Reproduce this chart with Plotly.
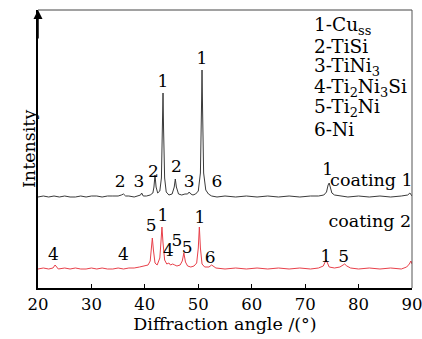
import plotly.graph_objects as go

# ---- data ----
c1_angle = [20, 21, 22, 23, 24, 25, 26, 27, 28, 29, 30, 31, 32, 33, 34, 35, 35.6, 36.0, 36.4, 37, 38, 38.8, 39.2, 39.4, 39.7, 40.3, 41.0,
            41.5, 41.7, 41.9, 42.1, 42.4, 42.8, 43.1, 43.3, 43.4, 43.5, 43.7, 44.0, 44.5, 45.1, 45.5, 45.7, 45.9, 46.3, 46.9,
            47.5, 48.0, 48.3, 48.6, 49.0, 49.5, 50.0, 50.4, 50.6, 50.7, 50.8, 51.0, 51.4, 51.9, 52.5, 53.5, 55, 57, 59, 61, 63,
            65, 67, 69, 71, 72.5, 73.5, 74.0, 74.3, 74.5, 74.7, 75.0, 75.5, 76.5, 78, 80, 82, 84, 86, 88, 89.2, 89.6, 89.8, 90]
c1_int = [91, 92, 91, 92, 91, 92, 91, 91, 92, 91, 92, 92, 91, 92, 92, 92, 93, 94, 92, 92, 91, 92, 93, 95, 92, 92, 93,
          95, 101, 113, 101, 95, 97, 110, 160, 195, 160, 110, 96, 93, 94, 101, 109, 101, 94, 93,
          94, 94, 96, 94, 93, 94, 97, 115, 180, 218, 180, 115, 98, 94, 92, 91, 92, 91, 92, 91, 92,
          91, 92, 91, 92, 92, 93, 96, 103, 105, 101, 95, 93, 92, 91, 92, 91, 92, 91, 92, 93, 95, 94, 92]

c2_angle = [20, 21, 22, 22.8, 23.2, 23.4, 23.8, 25, 26, 27, 28, 29, 30, 31, 32, 33, 34, 35, 36, 37, 38, 39, 40, 40.6, 41.0,
            41.2, 41.4, 41.6, 41.9, 42.3, 42.8, 43.0, 43.2, 43.4, 43.7, 44.1, 44.5, 44.8, 45.2, 45.6, 46.0, 46.6, 47.0,
            47.3, 47.6, 48.0, 48.6, 49.2, 49.7, 50.0, 50.2, 50.4, 50.7, 51.2, 52.0, 52.5, 52.8, 53.3, 55, 57, 59, 61, 63,
            65, 67, 69, 71, 72.5, 73.4, 73.7, 73.9, 74.1, 74.5, 75.5, 76.5, 77.1, 77.4, 77.8, 78.5, 80, 82, 84, 86, 88,
            89.0, 89.5, 89.8, 90]
c2_int = [19, 20, 19, 20, 23, 22, 19, 20, 19, 20, 19, 19, 20, 19, 20, 19, 19, 20, 19, 20, 20, 21, 22, 23, 27,
          38, 50, 38, 25, 23, 30, 45, 61, 45, 28, 24, 25, 23, 24, 23, 22, 23, 27,
          35, 26, 22, 21, 22, 25, 40, 61, 40, 24, 21, 21, 23, 22, 20, 19, 20, 19, 20, 19,
          20, 19, 20, 19, 20, 22, 26, 28, 26, 21, 20, 21, 23, 24, 22, 20, 19, 20, 19, 20, 19,
          21, 24, 27, 24]

c1_lab_x = [35.4, 38.9, 41.6, 45.9, 48.3, 53.5, 43.4, 50.7, 74.2]
c1_lab_y = [105, 105, 115, 120, 105, 105, 205, 228, 117]
c1_lab_t = ["2", "3", "2", "2", "3", "6", "1", "1", "1"]

c2_lab_x = [22.9, 36.0, 41.2, 43.4, 44.4, 46.0, 47.9, 50.3, 52.2, 73.9, 77.2]
c2_lab_y = [32, 32, 61, 71, 36, 46, 39, 69, 29, 30, 30]
c2_lab_t = ["4", "4", "5", "1", "4", "5", "5", "1", "6", "1", "5"]

series_names = ["coating 1", "coating 2"]
series_lab_x = [82.4, 82.1]
series_lab_y = [106, 65]

phase_legend = ["1-Cu<sub>ss</sub>", "2-TiSi", "3-TiNi<sub>3</sub>",
                "4-Ti<sub>2</sub>Ni<sub>3</sub>Si", "5-Ti<sub>2</sub>Ni", "6-Ni"]

x_ticks = [20, 30, 40, 50, 60, 70, 80, 90]

FONT = "DejaVu Serif, serif"

fig = go.Figure()
fig.add_trace(go.Scatter(x=c1_angle, y=c1_int, mode="lines",
                         line=dict(color="#3a3a3a", width=1), name="coating 1"))
fig.add_trace(go.Scatter(x=c2_angle, y=c2_int, mode="lines",
                         line=dict(color="#e8404a", width=1), name="coating 2"))

for xs, ys, ts in [(c1_lab_x, c1_lab_y, c1_lab_t), (c2_lab_x, c2_lab_y, c2_lab_t)]:
    fig.add_trace(go.Scatter(x=xs, y=ys, text=ts, mode="text",
                             textfont=dict(family=FONT, size=17, color="black"),
                             hoverinfo="skip"))

fig.add_trace(go.Scatter(x=series_lab_x, y=series_lab_y, text=series_names, mode="text",
                         textfont=dict(family=FONT, size=17.5, color="black"), hoverinfo="skip"))

# phase legend, one line per annotation (pixel rows 26..129 from top)
for i, t in enumerate(phase_legend):
    py = 26 + i * 20.6
    fig.add_annotation(xref="paper", yref="paper", x=(312 - 38) / 374, y=(288 - py) / 278,
                       xanchor="left", yanchor="middle", text=t, showarrow=False, align="left",
                       font=dict(family=FONT, size=18.5, color="black"))

# y axis arrow
fig.add_annotation(xref="paper", yref="paper", x=0, y=1, ax=0, ay=30, axref="pixel", ayref="pixel",
                   showarrow=True, arrowhead=2, arrowsize=1.2, arrowwidth=1.5, arrowcolor="black", text="")

fig.add_annotation(xref="paper", yref="paper", x=-0.056, y=0.5, text="Intensity", textangle=-90,
                   showarrow=False, font=dict(family=FONT, size=17.5, color="black"))

# frame top & right
fig.add_shape(type="line", xref="paper", yref="paper", x0=0, x1=1, y0=1, y1=1,
              line=dict(color="#444", width=1))
fig.add_shape(type="line", xref="paper", yref="paper", x0=1, x1=1, y0=0, y1=1,
              line=dict(color="#555", width=1))

fig.update_layout(
    width=422, height=339, margin=dict(l=38, r=10, t=10, b=51, autoexpand=False),
    plot_bgcolor="white", paper_bgcolor="white", showlegend=False,
    font=dict(family=FONT, size=16, color="black"),
)
fig.update_xaxes(range=[20, 90], tickvals=x_ticks, ticks="inside", ticklen=4, tickcolor="black",
                 showline=True, linecolor="black", linewidth=1.5, showgrid=False, zeroline=False,
                 tickfont=dict(family=FONT, size=16.5), ticklabeloverflow="allow", automargin=False,
                 title=dict(text="Diffraction angle /(°)", font=dict(family=FONT, size=17.5), standoff=3))
fig.update_yaxes(range=[0, 278], showticklabels=False, ticks="", showline=True, linecolor="black",
                 linewidth=1.5, showgrid=False, zeroline=False, automargin=False)

fig.write_html("out.html")
